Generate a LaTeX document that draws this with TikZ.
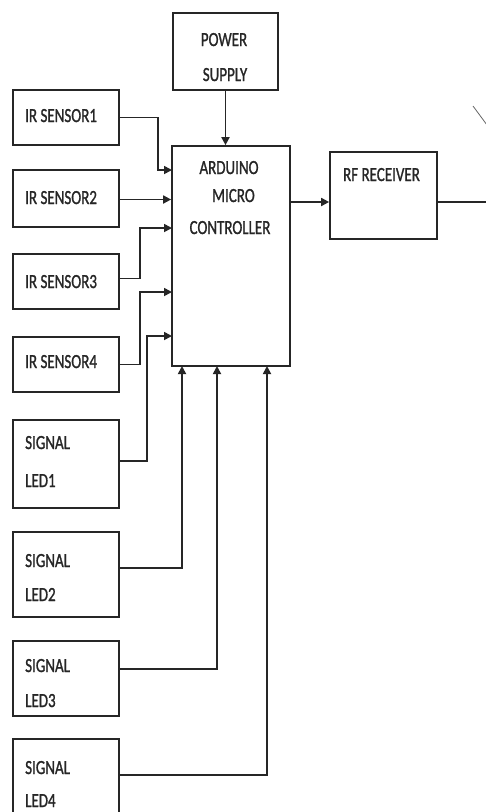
\documentclass[tikz,border=0pt]{standalone}
\usepackage{fontspec}
\setmainfont{Carlito}[FakeBold=1.3]
\usetikzlibrary{arrows.meta,calc}
\newcommand{\tx}[1]{\scalebox{0.75}[1]{#1}}
\begin{document}
\begin{tikzpicture}[x=1pt,y=-1pt,
  box/.style={draw=black!85,line width=1.7pt,rectangle,inner sep=0pt},
  lbl/.style={inner sep=0pt,text=black!85,font=\fontsize{20}{20}\selectfont},
  llbl/.style={lbl,anchor=base west},
  clbl/.style={lbl,anchor=base},
  wire/.style={draw=black!85,line width=1.7pt},
  arr/.style={wire,-{Triangle[length=8pt,width=8pt]}}]
\clip (0,0) rectangle (486,812);
\fill[white] (0,0) rectangle (486,812);
% boxes
\node[box,minimum width=105pt,minimum height=77pt] (power) at (225.5,51.5) {};
\node[box,minimum width=106pt,minimum height=55pt] (ir1) at (66,117.5) {};
\node[box,minimum width=106pt,minimum height=57pt] (ir2) at (66,198.5) {};
\node[box,minimum width=106pt,minimum height=55pt] (ir3) at (66,281.5) {};
\node[box,minimum width=106pt,minimum height=55pt] (ir4) at (66,364.5) {};
\node[box,minimum width=106pt,minimum height=88pt] (led1) at (66,464) {};
\node[box,minimum width=106pt,minimum height=85pt] (led2) at (66,574.5) {};
\node[box,minimum width=106pt,minimum height=75pt] (led3) at (66,678.5) {};
\node[box,minimum width=106pt,minimum height=91pt] (led4) at (66,784.5) {};
\node[box,minimum width=118pt,minimum height=220pt] (ard) at (231,256) {};
\node[box,minimum width=107pt,minimum height=87pt] (rf) at (383.5,195.5) {};
% labels
\node[clbl] (tpow1) at (224,46) {\tx{POWER}};
\node[clbl] (tpow2) at (225,81) {\tx{SUPPLY}};
\node[llbl] (tir1) at (25,122) {\tx{IR SENSOR1}};
\node[llbl] (tir2) at (25,204) {\tx{IR SENSOR2}};
\node[llbl] (tir3) at (25,288) {\tx{IR SENSOR3}};
\node[llbl] (tir4) at (25,368) {\tx{IR SENSOR4}};
\node[llbl] (tl1a) at (25,449) {\tx{SIGNAL}};
\node[llbl] (tl1b) at (25,487) {\tx{LED1}};
\node[llbl] (tl2a) at (25,567) {\tx{SIGNAL}};
\node[llbl] (tl2b) at (25,601) {\tx{LED2}};
\node[llbl] (tl3a) at (25,672) {\tx{SIGNAL}};
\node[llbl] (tl3b) at (25,707) {\tx{LED3}};
\node[llbl] (tl4a) at (25,774) {\tx{SIGNAL}};
\node[llbl] (tl4b) at (25,807) {\tx{LED4}};
\node[clbl] (ta1) at (229,174) {\tx{ARDUINO}};
\node[clbl] (ta2) at (233.5,202) {\tx{MICRO}};
\node[clbl] (ta3) at (230,234) {\tx{CONTROLLER}};
\node[clbl] (trf) at (381.5,181) {\tx{RF RECEIVER}};
% connection points
\coordinate (in1) at (172,170);
\coordinate (in3) at (172,228);
\coordinate (in4) at (172,292);
\coordinate (in5) at (172,336);
\coordinate (b1) at (182,366);
\coordinate (b2) at (217,366);
\coordinate (b3) at (267,366);
\coordinate (out) at (290,202);
\coordinate (rfout) at (486,202);
\coordinate (ant1) at (473,106);
\coordinate (ant2) at (487,125);
% connectors
\draw[arr] (power.south) -- (power.south |- ard.north);
\draw[arr] (ir1.east) -- ++(38,0) |- (in1);
\draw[arr] ([yshift=-1pt]ir2.east) -- ([yshift=-1pt]ir2.east -| ard.west);
\draw[arr] ([yshift=3pt]ir3.east) -- ++(20,0) |- (in3);
\draw[arr] (ir4.east) -- ++(20,0) |- (in4);
\draw[arr] ([yshift=3pt]led1.east) -- ++(27,0) |- (in5);
\draw[arr] ([yshift=6.5pt]led2.east) -| (b1);
\draw[arr] ([yshift=9.5pt]led3.east) -| (b2);
\draw[arr] ([yshift=9.5pt]led4.east) -| (b3);
\draw[arr] (out) -- (out -| rf.west);
\draw[wire] (rf.east |- rfout) -- (rfout);
\draw[draw=black!60,line width=0.8pt] (ant1) -- (ant2);
\end{tikzpicture}
\end{document}
